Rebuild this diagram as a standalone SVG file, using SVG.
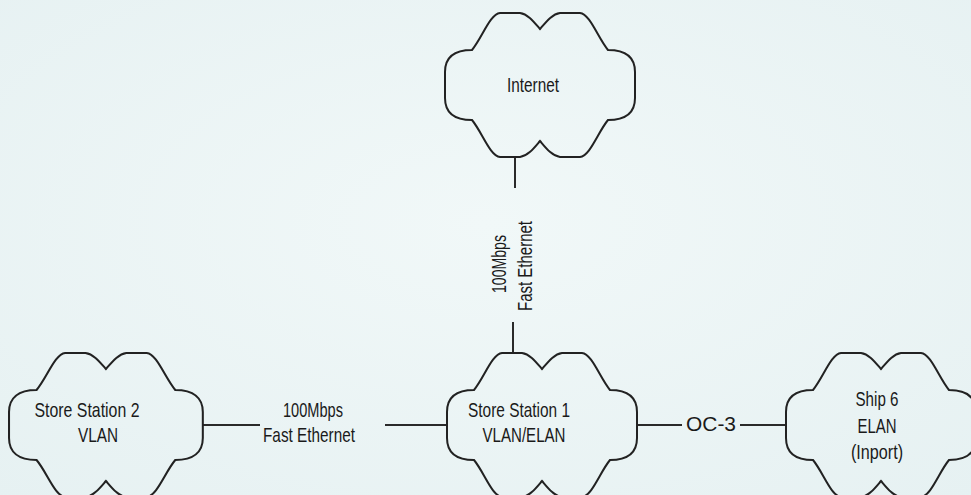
<svg xmlns="http://www.w3.org/2000/svg" width="971" height="495" viewBox="0 0 971 495">
  <defs>
    <radialGradient id="bg" cx="50%" cy="45%" r="75%">
      <stop offset="0" stop-color="#f1f8f8"/>
      <stop offset="1" stop-color="#e6f1f2"/>
    </radialGradient>
    <path id="cloud" d="M 1,60 C 1,46 10,38 28,38 C 38,26 46,2 56,1 L 76,1 C 84,2 90,10 96,17 C 102,10 108,2 116,1 L 136,1 C 146,2 154,26 164,38 C 182,38 191,46 191,60 L 191,86 C 191,100 182,108 164,108 C 154,120 146,144 136,145 L 116,145 C 108,144 102,136 96,129 C 90,136 84,144 76,145 L 56,145 C 46,144 38,120 28,108 C 10,108 1,100 1,86 Z"/>
  </defs>
  <style>
    .cloud { fill: none; stroke: #222; stroke-width: 2; }
    .lbl { font-family: "Liberation Sans", Arial, sans-serif; font-size: 21px; fill: #1a1a1a; text-anchor: middle; }
    .oc { font-family: "Liberation Sans", Arial, sans-serif; font-size: 20px; fill: #1a1a1a; text-anchor: middle; }
    .conn line { stroke: #2a2a2a; stroke-width: 2; }
  </style>
  <rect width="971" height="495" fill="url(#bg)"/>

  <g id="connectors" class="conn">
    <line x1="515" y1="157" x2="515" y2="188"/>
    <line x1="513" y1="322" x2="513" y2="353"/>
    <line x1="203" y1="425" x2="260" y2="425"/>
    <line x1="385" y1="425" x2="447" y2="425"/>
    <line x1="637" y1="425" x2="682" y2="425"/>
    <line x1="740" y1="425" x2="786" y2="425"/>
    <text class="lbl" transform="translate(506,264) rotate(-90)" textLength="58" lengthAdjust="spacingAndGlyphs">100Mbps</text>
    <text class="lbl" transform="translate(532,266) rotate(-90)" textLength="90" lengthAdjust="spacingAndGlyphs">Fast Ethernet</text>
    <text class="lbl" x="313" y="417" textLength="60" lengthAdjust="spacingAndGlyphs">100Mbps</text>
    <text class="lbl" x="309" y="442" textLength="92" lengthAdjust="spacingAndGlyphs">Fast Ethernet</text>
    <text class="oc" x="711" y="431" textLength="50" lengthAdjust="spacingAndGlyphs">OC-3</text>
  </g>

  <g id="internet">
    <use href="#cloud" class="cloud" transform="translate(444,12)"/>
    <text class="lbl" x="533" y="92" textLength="52" lengthAdjust="spacingAndGlyphs">Internet</text>
  </g>

  <g id="store-station-2">
    <use href="#cloud" class="cloud" transform="translate(8,352) scale(1.02 1)"/>
    <text class="lbl" x="87" y="417" textLength="105" lengthAdjust="spacingAndGlyphs">Store Station 2</text>
    <text class="lbl" x="98" y="442" textLength="40" lengthAdjust="spacingAndGlyphs">VLAN</text>
  </g>

  <g id="store-station-1">
    <use href="#cloud" class="cloud" transform="translate(446,352)"/>
    <text class="lbl" x="519" y="417" textLength="102" lengthAdjust="spacingAndGlyphs">Store Station 1</text>
    <text class="lbl" x="524" y="442" textLength="83" lengthAdjust="spacingAndGlyphs">VLAN/ELAN</text>
  </g>

  <g id="ship-6">
    <use href="#cloud" class="cloud" transform="translate(785,352)"/>
    <text class="lbl" x="877" y="406" textLength="43" lengthAdjust="spacingAndGlyphs">Ship 6</text>
    <text class="lbl" x="877" y="433" textLength="39" lengthAdjust="spacingAndGlyphs">ELAN</text>
    <text class="lbl" x="877" y="459" textLength="52" lengthAdjust="spacingAndGlyphs">(Inport)</text>
  </g>
</svg>
